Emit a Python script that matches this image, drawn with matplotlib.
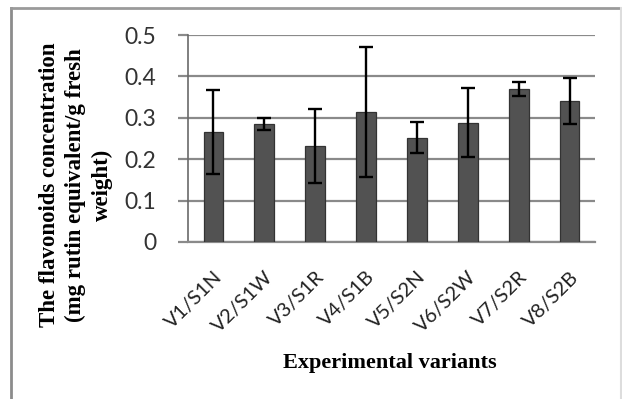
import numpy as np
import matplotlib.pyplot as plt
from matplotlib.lines import Line2D

# Data
variants = ["V1/S1N", "V2/S1W", "V3/S1R", "V4/S1B", "V5/S2N", "V6/S2W", "V7/S2R", "V8/S2B"]
flavonoids = [0.265, 0.285, 0.232, 0.313, 0.252, 0.288, 0.369, 0.340]
errors = [0.101, 0.014, 0.090, 0.157, 0.038, 0.083, 0.017, 0.055]
yticks = [0, 0.1, 0.2, 0.3, 0.4, 0.5]
ytick_labels = ["0", "0.1", "0.2", "0.3", "0.4", "0.5"]

W, H = 622, 399
fig = plt.figure(figsize=(W / 100, H / 100), dpi=100)
ax = fig.add_axes([188 / W, 1 - 242 / H, 407 / W, 207 / H])

x = np.arange(len(variants))
ax.bar(x, flavonoids, width=0.39, color="#525252", edgecolor="#333333",
       linewidth=0.9, zorder=3)
ax.errorbar(x, flavonoids, yerr=errors, fmt="none", ecolor="black",
            elinewidth=1.7, capsize=5, capthick=1.7, zorder=4)

ax.set_xlim(-0.5, len(variants) - 0.5)
ax.set_ylim(0, 0.5)
ax.set_yticks(yticks)
ax.set_yticklabels(ytick_labels, fontsize=16.5, family="Lato", color="#333333")
ax.yaxis.grid(True, color="#8a8a8a", linewidth=1.6, zorder=0)
ax.set_xticks(x)
ax.set_xticklabels(variants, rotation=45, ha="right", va="top",
                   rotation_mode="anchor", fontsize=14.5, family="Lato",
                   color="#222222")
ax.tick_params(axis="x", length=0, pad=19)
ax.tick_params(axis="y", length=7, width=1.6, color="#8a8a8a", pad=16)

for side in ["top", "right"]:
    ax.spines[side].set_visible(False)
ax.spines["left"].set_color("#6a6a6a")
ax.spines["left"].set_linewidth(1.2)
ax.spines["bottom"].set_color("#8a8a8a")
ax.spines["bottom"].set_linewidth(1.6)

fig.text(76 / W, 1 - 185 / H,
         "The flavonoids concentration\n(mg rutin equivalent/g fresh\nweight)",
         rotation=90, ha="center", va="center", multialignment="center",
         fontsize=16.5, fontweight="bold", family="Liberation Serif",
         linespacing=1.35)
fig.text(390 / W, 1 - 363 / H, "Experimental variants", ha="center",
         va="center", fontsize=16, fontweight="bold", family="Liberation Serif")

# outer frame
fig.add_artist(Line2D([11 / W, 11 / W], [0, 1 - 8 / H], color="#8c8c8c", lw=2))
fig.add_artist(Line2D([11 / W, 621 / W], [1 - 8 / H, 1 - 8 / H], color="#9a9a9a", lw=2))
fig.add_artist(Line2D([621 / W, 621 / W], [0, 1 - 8 / H], color="#dddddd", lw=1.5))

fig.savefig("out.png", dpi=100)
